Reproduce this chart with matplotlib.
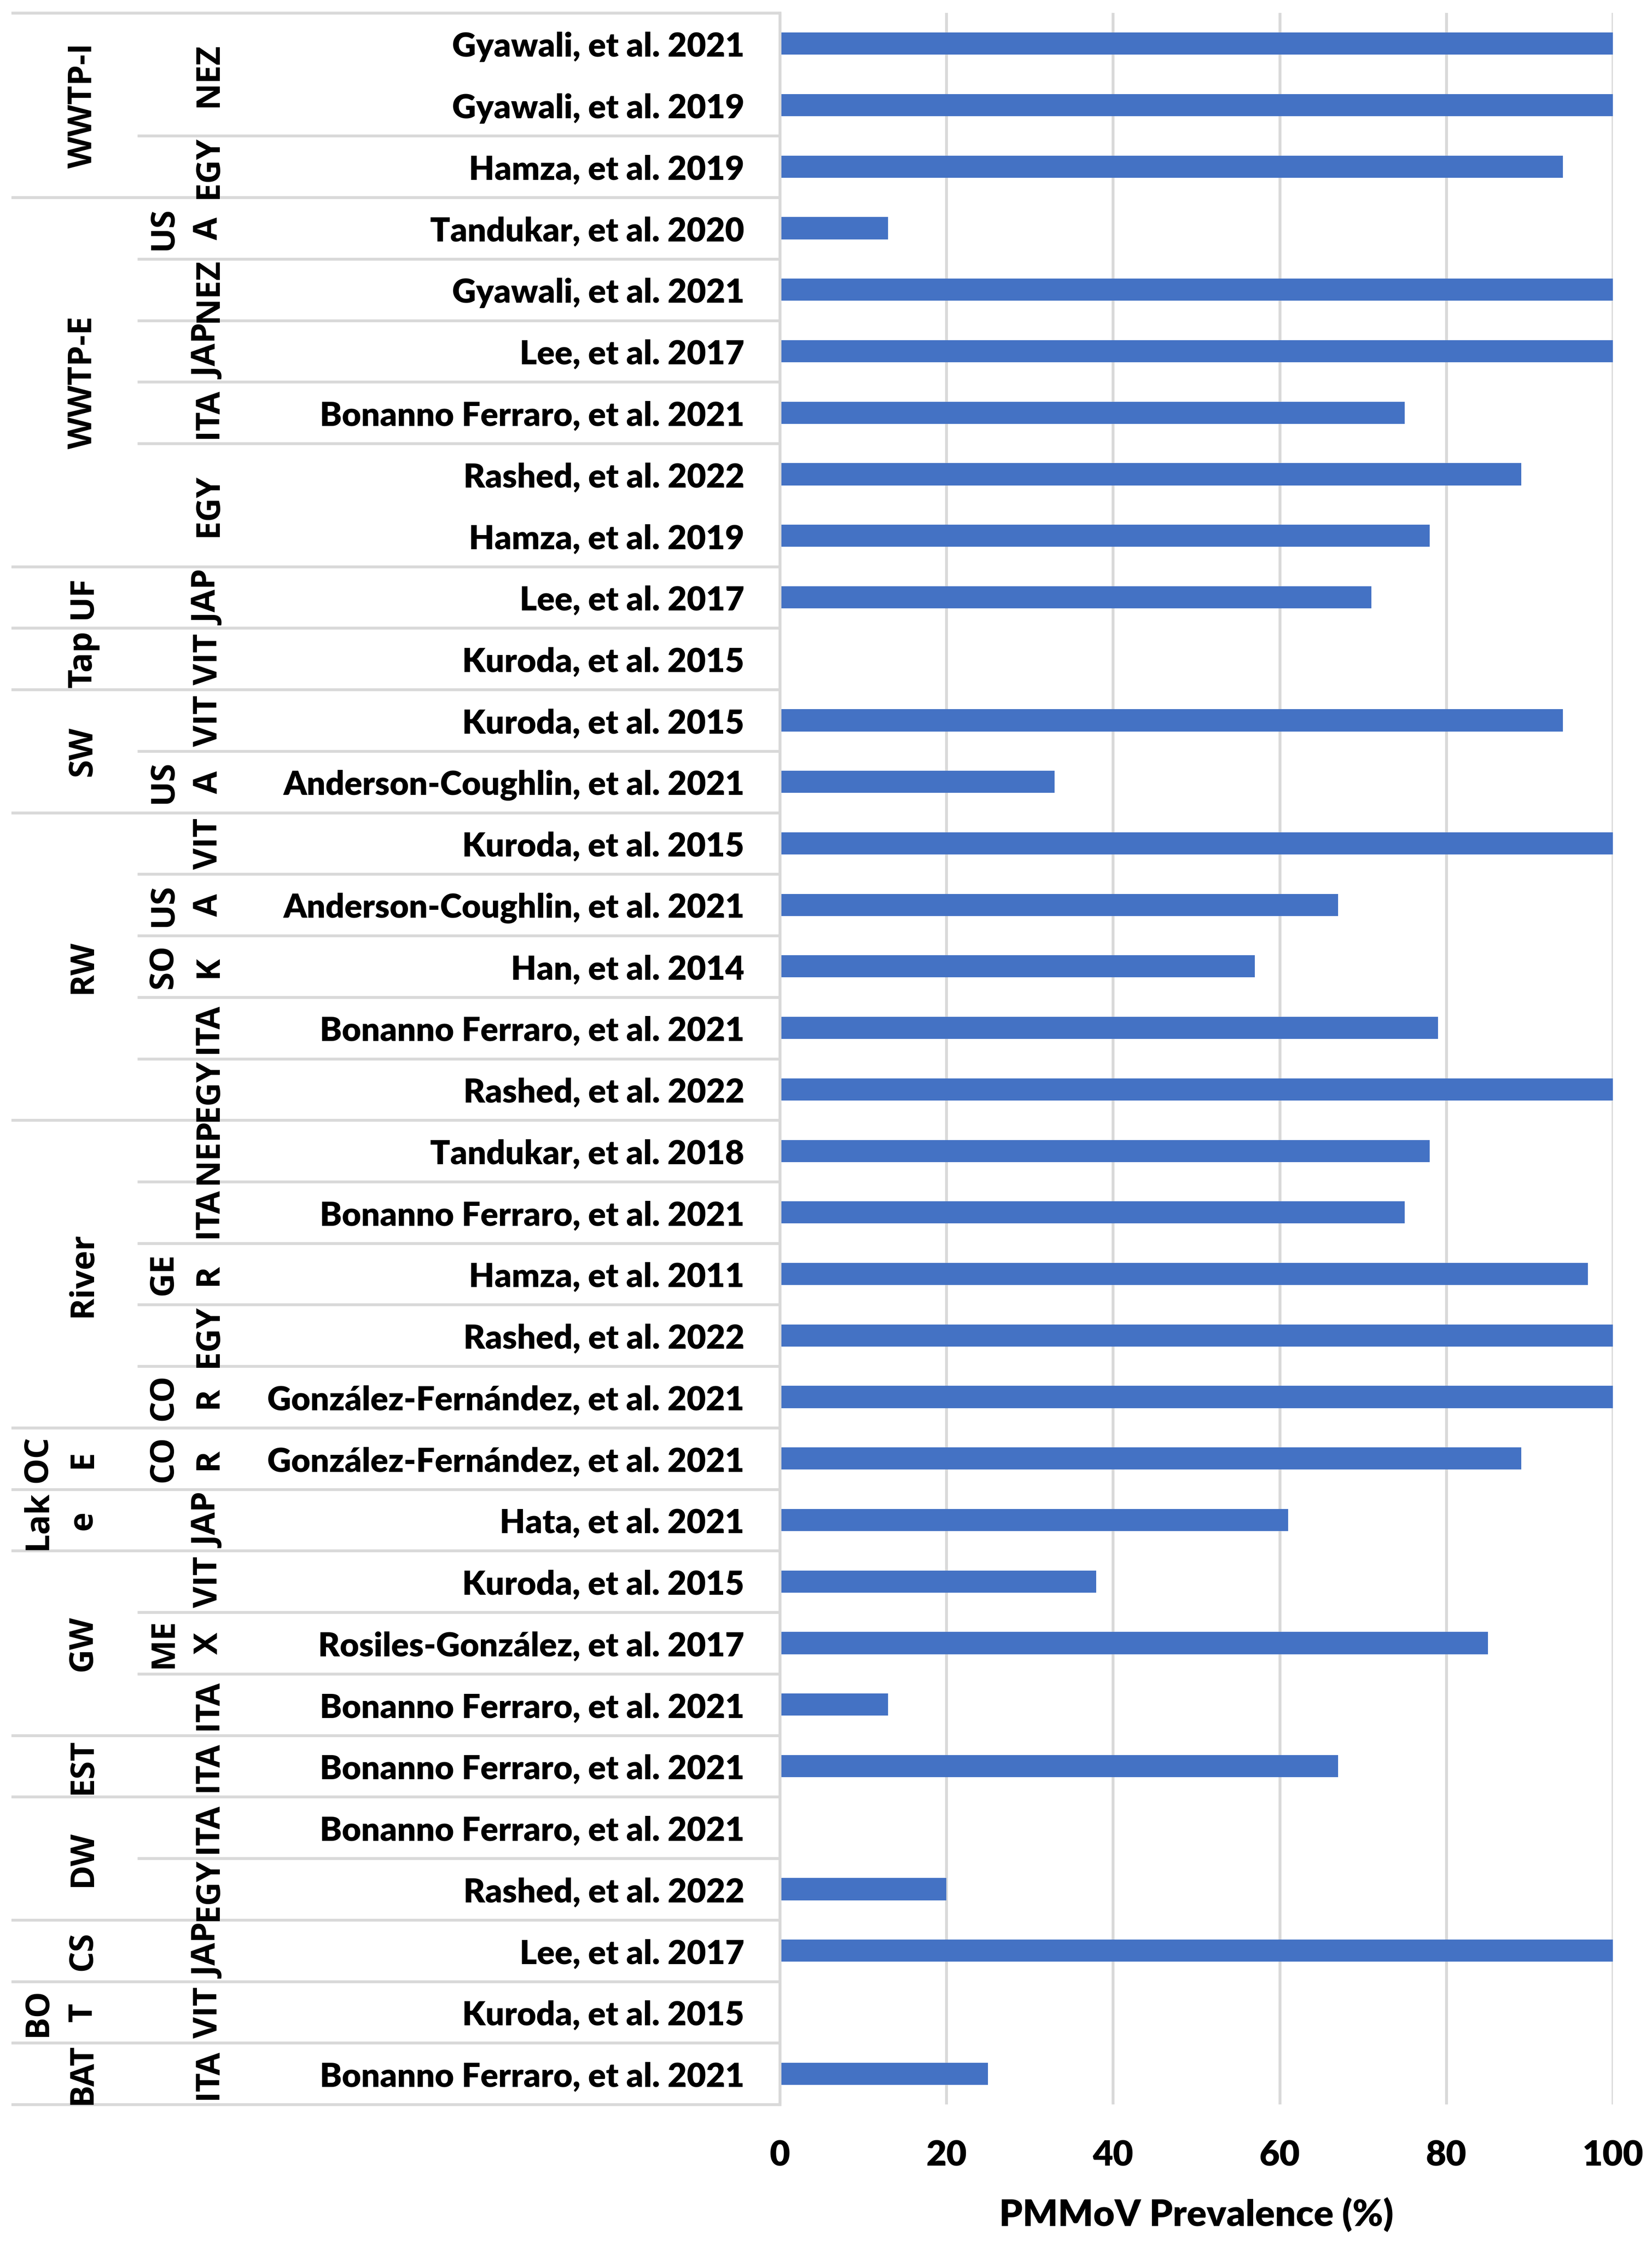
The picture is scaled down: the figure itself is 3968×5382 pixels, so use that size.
import matplotlib
matplotlib.use("Agg")
import matplotlib.pyplot as plt
from matplotlib.transforms import blended_transform_factory
import numpy as np

# ---------------- data ----------------
groups = ["WWTP-I", "WWTP-I", "WWTP-I",
          "WWTP-E", "WWTP-E", "WWTP-E", "WWTP-E", "WWTP-E", "WWTP-E",
          "UF", "Tap", "SW", "SW",
          "RW", "RW", "RW", "RW", "RW",
          "River", "River", "River", "River", "River",
          "OCE", "Lake", "GW", "GW", "GW", "EST", "DW", "DW", "CS", "BOT", "BAT"]
countries = ["NEZ", "NEZ", "EGY",
             "USA", "NEZ", "JAP", "ITA", "EGY", "EGY",
             "JAP", "VIT", "VIT", "USA",
             "VIT", "USA", "SOK", "ITA", "EGY",
             "NEP", "ITA", "GER", "EGY", "COR",
             "COR", "JAP", "VIT", "MEX", "ITA", "ITA", "ITA", "EGY", "JAP", "VIT", "ITA"]
studies = ["Gyawali, et al. 2021", "Gyawali, et al. 2019", "Hamza, et al. 2019",
           "Tandukar, et al. 2020", "Gyawali, et al. 2021", "Lee, et al. 2017",
           "Bonanno Ferraro, et al. 2021", "Rashed, et al. 2022", "Hamza, et al. 2019",
           "Lee, et al. 2017", "Kuroda, et al. 2015", "Kuroda, et al. 2015",
           "Anderson-Coughlin, et al. 2021",
           "Kuroda, et al. 2015", "Anderson-Coughlin, et al. 2021", "Han, et al. 2014",
           "Bonanno Ferraro, et al. 2021", "Rashed, et al. 2022",
           "Tandukar, et al. 2018", "Bonanno Ferraro, et al. 2021", "Hamza, et al. 2011",
           "Rashed, et al. 2022", "González-Fernández, et al. 2021",
           "González-Fernández, et al. 2021", "Hata, et al. 2021",
           "Kuroda, et al. 2015", "Rosiles-González, et al. 2017", "Bonanno Ferraro, et al. 2021",
           "Bonanno Ferraro, et al. 2021", "Bonanno Ferraro, et al. 2021", "Rashed, et al. 2022",
           "Lee, et al. 2017", "Kuroda, et al. 2015", "Bonanno Ferraro, et al. 2021"]
prevalence = [100, 100, 94,
              13, 100, 100, 75, 89, 78,
              71, 0, 94, 33,
              100, 67, 57, 79, 100,
              78, 75, 97, 100, 100,
              89, 61, 38, 85, 13, 67, 0, 20, 100, 0, 25]
xticks = [0, 20, 40, 60, 80, 100]
xlabel = "PMMoV Prevalence (%)"

# wrapped labels as they appear in the cells
group_display = {"OCE": "OC\nE", "Lake": "Lak\ne", "BOT": "BO\nT"}
country_display = {"USA": "US\nA", "SOK": "SO\nK", "GER": "GE\nR",
                   "COR": "CO\nR", "MEX": "ME\nX"}

# ---------------- figure ----------------
W, H, DPI = 3968, 5383, 300
fig = plt.figure(figsize=(W / DPI, H / DPI), dpi=DPI)
fig.patch.set_facecolor("white")

AX_L, AX_R, AX_T, AX_B = 1873, 3874, 32, 5055
ax = fig.add_axes([AX_L / W, 1 - AX_B / H, (AX_R - AX_L) / W, (AX_B - AX_T) / H])

grid_c = "#D9D9D9"
lw = 1.65
n = len(studies)
y = np.arange(n)
ax.barh(y, prevalence, height=0.36, color="#4472C4", zorder=3)
ax.set_xlim(0, 100)
ax.set_ylim(n - 0.5, -0.5)
ax.set_xticks(xticks)
ax.xaxis.grid(True, color=grid_c, linewidth=lw, zorder=0)
ax.set_axisbelow(True)
for s in ["top", "right", "bottom"]:
    ax.spines[s].set_visible(False)
ax.spines["left"].set_color(grid_c)
ax.spines["left"].set_linewidth(lw)
ax.spines["left"].set_zorder(4)

lato = ["Lato", "DejaVu Sans"]
WT = "heavy"
ax.set_yticks(y, labels=studies)
ax.tick_params(axis="y", length=0, pad=20.4)
ax.tick_params(axis="x", length=0, pad=(5202 - AX_B) * 72 / DPI)
for t in ax.get_yticklabels():
    t.set_fontfamily(lato)
    t.set_fontweight(WT)
    t.set_fontsize(20)
for t in ax.get_xticklabels():
    t.set_fontfamily(lato)
    t.set_fontweight(WT)
    t.set_fontsize(20)
    t.set_va("baseline")
ax.set_xlabel(xlabel, fontfamily=lato, fontweight=WT, fontsize=20)
ax.xaxis.set_label_coords(0.5, (AX_B - 5345) / (AX_B - AX_T))
ax.xaxis.label.set_va("baseline")

# fit citation label size to the reference width
fig.canvas.draw()
r = fig.canvas.get_renderer()
widest = max(t.get_window_extent(r).width for t in ax.get_yticklabels())
fs = 20 * 1148 / widest
for t in ax.get_yticklabels():
    t.set_fontsize(fs)
for t in ax.get_xticklabels():
    t.set_fontsize(fs * 1.06)
ax.xaxis.label.set_fontsize(fs * 1.11)

# ---------------- table lines & rotated labels ----------------
tr = blended_transform_factory(fig.transFigure, ax.transData)
x_end = AX_L / W
x_grp = 27 / W
x_cty = 330 / W

def runs(keys):
    out = []
    start = 0
    for i in range(1, len(keys) + 1):
        if i == len(keys) or keys[i] != keys[start]:
            out.append((start, i))
            start = i
    return out

grp_runs = runs(groups)
for (s, e) in grp_runs:
    ax.plot([x_grp, x_end], [s - 0.5, s - 0.5], color=grid_c, lw=lw,
            transform=tr, clip_on=False, zorder=2, solid_capstyle="butt")
ax.plot([x_grp, x_end], [n - 0.5, n - 0.5], color=grid_c, lw=lw,
        transform=tr, clip_on=False, zorder=2, solid_capstyle="butt")

rot_font = ["Open Sans", "DejaVu Sans"]
rot_fs = 19

def put_label(text, yc, xbase):
    lines = text.split("\n")
    m = len(lines)
    for k, line in enumerate(lines):
        xp = (xbase - 108 * (m - 1 - k)) / W
        ax.text(xp, yc, line, rotation=90, ha="center", va="center",
                fontfamily=rot_font, fontweight="bold", fontsize=rot_fs,
                transform=tr, clip_on=False)

for (s, e) in grp_runs:
    g = groups[s]
    put_label(group_display.get(g, g), (s + e - 1) / 2, 199)
    keys = [countries[i] for i in range(s, e)]
    c_runs = runs(keys)
    for j, (cs, ce) in enumerate(c_runs):
        cs += s
        ce += s
        if j > 0:
            ax.plot([x_cty, x_end], [cs - 0.5, cs - 0.5], color=grid_c, lw=lw,
                    transform=tr, clip_on=False, zorder=2, solid_capstyle="butt")
        c = countries[cs]
        put_label(country_display.get(c, c), (cs + ce - 1) / 2, 501)

fig.savefig("out.png", dpi=DPI, facecolor="white")
